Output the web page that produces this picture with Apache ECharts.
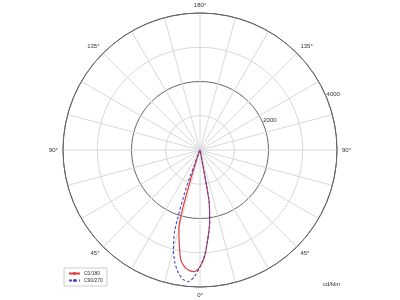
<!DOCTYPE html>
<html><head><meta charset="utf-8">
<script src="https://cdn.jsdelivr.net/npm/echarts@6/dist/echarts.min.js"></script>
<style>html,body{margin:0;padding:0;background:#fff}#c{width:400px;height:300px}</style>
</head><body><div id="c"></div>
<script>
// gamma angles (deg) and luminous intensity (cd/klm) per C-plane half
const gammaAngles = [0,2.5,5,7.5,10,12.5,15,17.5,20,22.5,25,30,40,50,60,70,80,90,100,120,140,160,180];
const c180 = [3410,3555,3535,3445,3240,2800,2380,1050,200,50,25,20,15,12,10,10,8,5,3,2,1,1,1];
const c0   = [3410,3110,2610,2155,1536,50,30,25,20,15,12,10,10,8,6,5,4,3,2,1,1,1,1];
const c270 = [3410,3700,3860,3810,3640,3380,3000,2450,1200,150,40,20,15,12,10,10,8,5,3,2,1,1,1];
const c90  = [3410,3080,2610,2155,1536,50,30,25,20,15,12,10,10,8,6,5,4,3,2,1,1,1,1];
const seriesNames = ['C0/180','C90/270'];
const radiusTicks = [0,1000,2000,3000,4000];

function loop(left, right) {
  const pts = [];
  for (let i = gammaAngles.length - 1; i >= 0; i--) pts.push([left[i], gammaAngles[i]]);
  for (let i = 1; i < gammaAngles.length; i++) pts.push([right[i], 360 - gammaAngles[i]]);
  return pts;
}

const chart = echarts.init(document.getElementById('c'), null, {renderer:'canvas'});
const light = '#d8d8d8', dark = '#666';
chart.setOption({
  animation: false,
  textStyle: {fontFamily: 'Liberation Sans, Arial, sans-serif'},
  title: {text: 'cd/klm', left: 323, top: 281, padding: 0,
    textStyle: {fontSize: 6, fontWeight: 'normal', color: '#333'}},
  legend: {
    orient: 'vertical', left: 64, top: 268, padding: [3, 4, 3, 4], itemGap: 2,
    itemWidth: 11, itemHeight: 4, borderColor: '#ccc', borderWidth: 1,
    textStyle: {fontSize: 5, color: '#333', padding: [0,0,0,-1]},
    data: seriesNames
  },
  polar: [
    {center: ['50%','50%'], radius: 137},
    {center: ['50%','50%'], radius: 137}
  ],
  angleAxis: [
    {polarIndex: 0, type: 'value', min: 0, max: 360, interval: 15, startAngle: -90, clockwise: true,
      axisLine: {show: true, lineStyle: {color: dark, width: 1}},
      axisTick: {show: false},
      splitLine: {show: true, lineStyle: {color: light, width: 1}},
      axisLabel: {fontSize: 6, color: '#333', margin: 5,
        formatter: v => { if (v % 45 !== 0 || v === 360) return ''; const g = v <= 180 ? v : 360 - v; return g + '°'; }}
    },
    {polarIndex: 1, type: 'value', min: 0, max: 360, startAngle: 22.5, show: false}
  ],
  radiusAxis: [
    {polarIndex: 0, type: 'value', min: radiusTicks[0], max: radiusTicks[radiusTicks.length-1], interval: 1000,
      axisLine: {show: false}, axisTick: {show: false}, axisLabel: {show: false},
      splitLine: {show: true, lineStyle: {color: [light, light, dark, light, dark], width: 1}}
    },
    {polarIndex: 1, type: 'value', min: 0, max: 4000, interval: 2000,
      axisLine: {show: false}, axisTick: {show: false}, splitLine: {show: false},
      axisLabel: {margin: 0, align: 'left', verticalAlign: 'bottom', fontSize: 6, color: '#333',
        formatter: v => v === 0 ? '' : String(v)}
    }
  ],
  series: [
    {name: seriesNames[0], type: 'line', coordinateSystem: 'polar', polarIndex: 0,
      symbol: 'none', smooth: 0.2, data: loop(c180, c0),
      lineStyle: {color: '#e23b3b', width: 1.2}, itemStyle: {color: '#e23b3b'}, z: 3},
    {name: seriesNames[1], type: 'line', coordinateSystem: 'polar', polarIndex: 0,
      symbol: 'none', smooth: 0.2, data: loop(c270, c90),
      lineStyle: {color: '#4545c8', width: 1.1, type: [3, 2]}, itemStyle: {color: '#4545c8'}, z: 4}
  ]
});
</script></body></html>
